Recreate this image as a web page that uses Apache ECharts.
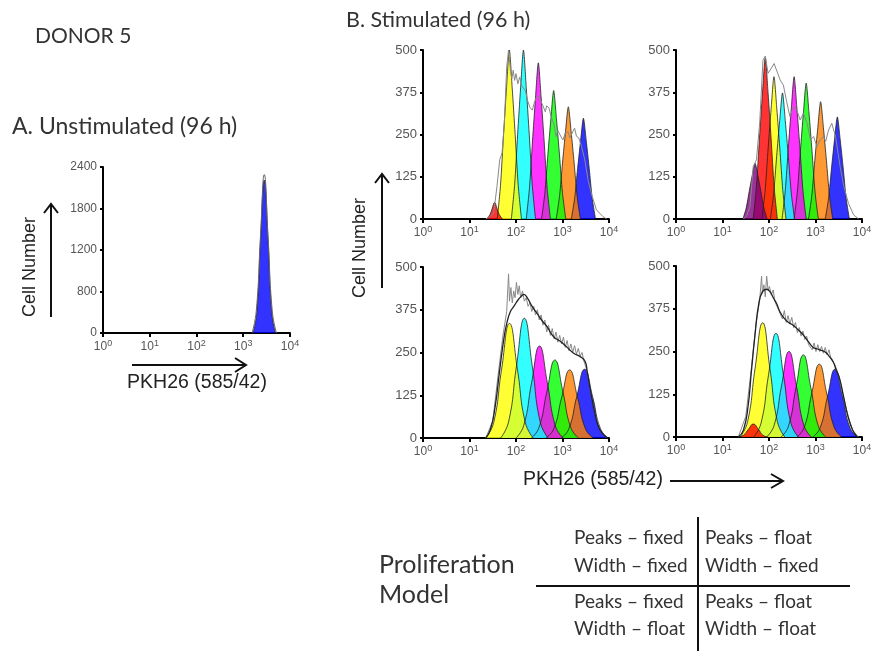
<!DOCTYPE html>
<html><head><meta charset="utf-8">
<script src="https://cdn.jsdelivr.net/npm/echarts@6/dist/echarts.min.js"></script>
<style>html,body{margin:0;padding:0;background:#fff}#c{width:881px;height:651px}</style>
</head><body><div id="c"></div><script>
// x of every point = log10(PKH26 intensity), read in decades off the picture; y = cell number
const xTickExps = [0, 1, 2, 3, 4];
const yTicksA = ['0', '800', '1200', '1800', '2400'];
const yTicksB = ['0', '125', '250', '375', '500'];

// A. Unstimulated
const aBlue = [[3.21,0],[3.29,300],[3.37,1350],[3.45,2210],[3.53,1350],[3.61,300],[3.69,0]];
const aData = [[3.19,0],[3.28,330],[3.37,1420],[3.45,2290],[3.53,1400],[3.62,320],[3.71,0]];

// B top-left: peaks fixed / width fixed
const tlRed     = [[1.37,0],[1.44,13],[1.49,32],[1.54,49],[1.59,32],[1.64,13],[1.71,0]];
const tlYellow  = [[1.597,0],[1.667,100],[1.732,250],[1.797,390],[1.857,500],[1.917,390],[1.982,250],[2.047,100],[2.117,0]];
const tlCyan    = [[1.90,0],[1.97,100],[2.035,250],[2.10,390],[2.16,500],[2.22,390],[2.285,250],[2.35,100],[2.42,0]];
const tlMagenta = [[2.22,0],[2.29,92],[2.355,231],[2.42,360],[2.48,462],[2.54,360],[2.605,231],[2.67,92],[2.74,0]];
const tlGreen   = [[2.55,0],[2.62,76],[2.685,190],[2.75,296],[2.81,380],[2.87,296],[2.935,190],[3.00,76],[3.07,0]];
const tlOrange  = [[2.865,0],[2.935,66],[3.00,166],[3.065,259],[3.125,332],[3.185,259],[3.25,166],[3.315,66],[3.385,0]];
const tlBlue    = [[3.19,0],[3.26,60],[3.325,149],[3.39,232],[3.45,298],[3.51,232],[3.575,149],[3.64,60],[3.71,0]];
const tlData = [[1.35,0],[1.45,8],[1.52,18],[1.59,95],[1.65,175],[1.70,195],[1.75,284],[1.80,450],[1.84,500],[1.88,440],[1.91,415],[1.94,440],[1.97,410],[2.00,430],[2.04,400],[2.08,420],[2.12,395],[2.16,390],[2.20,380],[2.25,350],[2.30,330],[2.35,322],[2.40,347],[2.44,360],[2.48,367],[2.53,350],[2.58,335],[2.63,317],[2.66,335],[2.71,328],[2.76,300],[2.81,284],[2.86,244],[2.90,262],[2.94,263],[2.98,240],[3.01,234],[3.06,255],[3.12,258],[3.16,240],[3.20,252],[3.26,269],[3.30,245],[3.35,240],[3.41,214],[3.48,175],[3.55,115],[3.63,71],[3.73,27],[3.87,7],[3.95,0]];

// B top-right: peaks float / width fixed
const trPurple  = [[1.44,0],[1.51,33],[1.575,82],[1.64,129],[1.70,165],[1.76,129],[1.825,82],[1.89,33],[1.96,0]];
const trRed     = [[1.66,0],[1.73,96],[1.795,239],[1.86,373],[1.92,478],[1.98,373],[2.045,239],[2.11,96],[2.18,0]];
const trYellow  = [[1.847,0],[1.917,84],[1.982,210],[2.047,328],[2.107,421],[2.167,328],[2.232,210],[2.297,84],[2.367,0]];
const trCyan    = [[2.03,0],[2.10,75],[2.165,186],[2.23,291],[2.29,373],[2.35,291],[2.415,186],[2.48,75],[2.55,0]];
const trMagenta = [[2.28,0],[2.35,84],[2.415,210],[2.48,328],[2.54,421],[2.60,328],[2.665,210],[2.73,84],[2.80,0]];
const trGreen   = [[2.54,0],[2.61,80],[2.675,201],[2.74,314],[2.80,402],[2.86,314],[2.925,201],[2.99,80],[3.06,0]];
const trOrange  = [[2.85,0],[2.92,69],[2.985,173],[3.05,271],[3.11,347],[3.17,271],[3.235,173],[3.30,69],[3.37,0]];
const trBlue    = [[3.21,0],[3.28,60],[3.345,151],[3.41,236],[3.47,302],[3.53,236],[3.595,151],[3.66,60],[3.73,0]];
const trData = [[1.45,0],[1.52,10],[1.59,36],[1.66,155],[1.73,175],[1.80,284],[1.87,470],[1.92,482],[1.98,431],[2.05,446],[2.11,460],[2.16,441],[2.24,411],[2.31,396],[2.38,347],[2.45,303],[2.53,332],[2.60,322],[2.67,293],[2.74,313],[2.82,283],[2.89,234],[2.96,244],[3.03,214],[3.10,234],[3.17,244],[3.22,230],[3.28,263],[3.35,283],[3.43,244],[3.53,155],[3.61,96],[3.71,46],[3.82,12],[3.93,0]];

// B bottom-left: peaks fixed / width float
const blYellow  = [[1.35,0],[1.52,45],[1.69,201],[1.86,335],[2.03,201],[2.20,45],[2.37,0]];
const blCyan    = [[1.67,0],[1.84,47],[2.01,210],[2.18,350],[2.35,210],[2.52,47],[2.69,0]];
const blMagenta = [[2.00,0],[2.165,36],[2.335,161],[2.505,269],[2.675,161],[2.845,36],[3.015,0]];
const blGreen   = [[2.33,0],[2.496,31],[2.666,137],[2.836,228],[3.006,137],[3.176,31],[3.346,0]];
const blOrange  = [[2.64,0],[2.813,27],[2.983,119],[3.153,199],[3.323,119],[3.493,27],[3.663,0]];
const blBlue    = [[2.97,0],[3.137,27],[3.307,121],[3.477,201],[3.647,121],[3.817,27],[3.987,0]];
const blFit = [[1.35,0],[1.45,25],[1.55,90],[1.65,200],[1.75,300],[1.81,340],[1.88,370],[1.95,384],[2.05,405],[2.12,415],[2.17,420],[2.25,408],[2.35,384],[2.45,365],[2.55,345],[2.67,325],[2.81,296],[2.96,282],[3.10,265],[3.24,248],[3.38,238],[3.49,223],[3.53,195],[3.60,140],[3.70,70],[3.80,25],[3.96,0]];
const blData = [[1.35,0],[1.50,50],[1.62,190],[1.72,300],[1.80,370],[1.84,480],[1.86,400],[1.89,440],[1.92,395],[1.95,430],[1.98,410],[2.01,455],[2.04,420],[2.07,445],[2.10,410],[2.14,430],[2.18,400],[2.22,410],[2.26,385],[2.30,395],[2.34,370],[2.38,385],[2.42,360],[2.46,375],[2.50,345],[2.54,360],[2.58,330],[2.62,345],[2.66,310],[2.70,330],[2.74,300],[2.78,320],[2.82,290],[2.86,310],[2.90,280],[2.94,300],[2.98,275],[3.02,295],[3.06,265],[3.10,285],[3.14,255],[3.18,275],[3.22,250],[3.26,270],[3.30,245],[3.34,262],[3.38,240],[3.42,250],[3.46,225],[3.52,200],[3.60,140],[3.70,70],[3.82,20],[3.95,0]];

// B bottom-right: peaks float / width float
const brRed     = [[1.35,0],[1.45,5],[1.56,23],[1.663,38],[1.77,23],[1.87,5],[1.98,0]];
const brYellow  = [[1.38,0],[1.54,45],[1.70,200],[1.864,334],[2.02,200],[2.18,45],[2.34,0]];
const brCyan    = [[1.67,0],[1.83,41],[1.99,182],[2.15,303],[2.31,182],[2.47,41],[2.63,0]];
const brMagenta = [[1.95,0],[2.11,34],[2.27,150],[2.43,250],[2.59,150],[2.75,34],[2.91,0]];
const brGreen   = [[2.26,0],[2.42,32],[2.58,144],[2.738,240],[2.90,144],[3.06,32],[3.22,0]];
const brOrange  = [[2.60,0],[2.76,29],[2.92,128],[3.082,213],[3.24,128],[3.40,29],[3.56,0]];
const brBlue    = [[2.94,0],[3.10,27],[3.26,119],[3.419,198],[3.58,119],[3.74,27],[3.90,0]];
const brFit = [[1.34,0],[1.45,20],[1.55,90],[1.62,190],[1.70,300],[1.78,390],[1.86,425],[1.95,432],[2.02,425],[2.10,405],[2.16,391],[2.24,365],[2.31,350],[2.42,335],[2.52,327],[2.63,313],[2.74,298],[2.85,278],[2.95,262],[3.03,258],[3.10,254],[3.20,249],[3.30,235],[3.38,220],[3.44,198],[3.52,170],[3.60,120],[3.70,60],[3.80,20],[3.90,0]];
const brData = [[1.34,0],[1.50,60],[1.62,200],[1.72,330],[1.80,400],[1.84,470],[1.86,420],[1.89,445],[1.92,410],[1.95,470],[1.98,430],[2.01,440],[2.05,415],[2.09,430],[2.13,395],[2.17,400],[2.21,370],[2.25,375],[2.29,345],[2.33,370],[2.37,335],[2.41,355],[2.45,330],[2.49,350],[2.53,320],[2.57,335],[2.61,305],[2.65,320],[2.69,295],[2.73,310],[2.77,285],[2.81,295],[2.85,270],[2.89,275],[2.93,255],[2.97,275],[3.01,250],[3.05,270],[3.09,250],[3.13,265],[3.17,245],[3.21,262],[3.25,240],[3.29,255],[3.33,230],[3.37,230],[3.42,210],[3.50,180],[3.60,120],[3.70,60],[3.80,20],[3.92,0]];

const C = {red:'#ff0000', yellow:'#ffff00', cyan:'#00ffff', magenta:'#ff00ff', green:'#00ff00', orange:'#ff8000', blue:'#0000ff', purple:'#800080'};
const toLin = d => d.map(p => [Math.pow(10, p[0]), p[1]]);

const grids = [
  {left:103, top:167, width:187, height:166},
  {left:423, top:50, width:186, height:169},
  {left:676, top:50, width:186, height:169},
  {left:423, top:267, width:186, height:171},
  {left:676, top:266, width:186, height:171}
];
const labelFont = 'Liberation Sans, Arial, sans-serif';
function xAxis(gi){
  return {type:'log', logBase:10, min:1, max:10000, gridIndex:gi,
    axisLine:{lineStyle:{color:'#000', width:2}},
    axisTick:{length:4, lineStyle:{color:'#000', width:2}},
    splitLine:{show:false}, minorTick:{show:false},
    axisLabel:{margin:6, color:'#555', formatter:(v,i)=>'{b|10}{s|'+xTickExps[i]+'}',
      rich:{b:{fontSize:12, color:'#555', fontFamily:labelFont, lineHeight:15},
            s:{fontSize:9, color:'#555', fontFamily:labelFont, lineHeight:9, verticalAlign:'top'}}}};
}
function yAxis(gi, max, labels, fs){
  return {type:'value', gridIndex:gi, min:0, max:max, interval:max/4,
    axisLine:{show:true, lineStyle:{color:'#000', width:2}},
    axisTick:{show:true, length:3, lineStyle:{color:'#000', width:2}},
    splitLine:{show:false},
    axisLabel:{margin:6, color:'#555', fontSize:fs, fontFamily:labelFont, formatter:(v,i)=>labels[i]}};
}
function peak(d, color, gi, sm){
  return {type:'line', xAxisIndex:gi, yAxisIndex:gi, data:toLin(d), smooth:sm, symbol:'none', silent:true,
    lineStyle:{color:'#222', width:0.8}, areaStyle:{color:color, opacity:0.8}};
}
function curve(d, color, w, gi, sm){
  return {type:'line', xAxisIndex:gi, yAxisIndex:gi, data:toLin(d), smooth:sm, symbol:'none', silent:true,
    lineStyle:{color:color, width:w}};
}
const series = [
  peak(aBlue, C.blue, 0, 0.5), curve(aData, '#666', 1, 0, 0.5),
  // drawn right to left so each left peak lies over its right neighbour
  peak(tlBlue, C.blue, 1, 0.25), peak(tlOrange, C.orange, 1, 0.25), peak(tlGreen, C.green, 1, 0.25),
  peak(tlMagenta, C.magenta, 1, 0.25), peak(tlCyan, C.cyan, 1, 0.25), peak(tlYellow, C.yellow, 1, 0.25), peak(tlRed, C.red, 1, 0.4),
  curve(tlData, '#888', 1, 1, 0),
  peak(trBlue, C.blue, 2, 0.25), peak(trOrange, C.orange, 2, 0.25), peak(trGreen, C.green, 2, 0.25), peak(trMagenta, C.magenta, 2, 0.25),
  peak(trCyan, C.cyan, 2, 0.25), peak(trYellow, C.yellow, 2, 0.25), peak(trRed, C.red, 2, 0.25), peak(trPurple, C.purple, 2, 0.25),
  curve(trData, '#888', 1, 2, 0),
  peak(blBlue, C.blue, 3, 0.5), peak(blOrange, C.orange, 3, 0.5), peak(blGreen, C.green, 3, 0.5),
  peak(blMagenta, C.magenta, 3, 0.5), peak(blCyan, C.cyan, 3, 0.5), peak(blYellow, C.yellow, 3, 0.5),
  curve(blData, '#888', 1, 3, 0), curve(blFit, '#222', 1.3, 3, 0.5),
  peak(brBlue, C.blue, 4, 0.5), peak(brOrange, C.orange, 4, 0.5), peak(brGreen, C.green, 4, 0.5),
  peak(brMagenta, C.magenta, 4, 0.5), peak(brCyan, C.cyan, 4, 0.5), peak(brYellow, C.yellow, 4, 0.5), peak(brRed, C.red, 4, 0.5),
  curve(brData, '#888', 1, 4, 0), curve(brFit, '#222', 1.3, 4, 0.5)
];

const ink = '#111';
const titleFont = 'Lato, "Open Sans", sans-serif';
function txt(x, y, text, size, family, color, align, rot){
  return {type:'text', x:x, y:y, rotation:rot||0, silent:true,
    style:{text:text, x:0, y:0, fontSize:size, fontFamily:family, fill:color, align:align||'left', verticalAlign:'middle'}};
}
function seg(x1, y1, x2, y2, w){
  return {type:'line', silent:true, shape:{x1:x1, y1:y1, x2:x2, y2:y2}, style:{stroke:ink, lineWidth:w||2}};
}
function head(points){
  return {type:'polyline', silent:true, shape:{points:points}, style:{stroke:ink, lineWidth:2, fill:null}};
}
const graphics = [
  txt(35, 36, 'DONOR 5', 21, titleFont, '#333'),
  txt(346, 20, 'B. Stimulated (96 h)', 21.5, titleFont, '#333'),
  txt(12, 127, 'A. Unstimulated (96 h)', 23, titleFont, '#333'),
  txt(30, 267, 'Cell Number', 18, labelFont, '#222', 'center', Math.PI/2),
  seg(51, 317, 51, 204), head([[44,213],[51,204],[58,213]]),
  txt(197, 383, 'PKH26 (585/42)', 19.5, labelFont, '#222', 'center'),
  seg(132, 365, 246, 365), head([[235,358],[246,365],[235,372]]),
  txt(360, 248, 'Cell Number', 18, labelFont, '#222', 'center', Math.PI/2),
  seg(382, 288, 382, 174), head([[375,183],[382,174],[389,183]]),
  txt(593, 480, 'PKH26 (585/42)', 19.5, labelFont, '#222', 'center'),
  seg(670, 481, 783, 481), head([[771,474],[783,481],[771,488]]),
  txt(379, 565, 'Proliferation', 25, titleFont, '#333'),
  txt(379, 595, 'Model', 25, titleFont, '#333'),
  txt(574, 538, 'Peaks – fixed', 19, titleFont, '#333'),
  txt(574, 566, 'Width – fixed', 19, titleFont, '#333'),
  txt(705, 538, 'Peaks – float', 19, titleFont, '#333'),
  txt(705, 566, 'Width – fixed', 19, titleFont, '#333'),
  txt(574, 602, 'Peaks – fixed', 19, titleFont, '#333'),
  txt(574, 629, 'Width – float', 19, titleFont, '#333'),
  txt(705, 602, 'Peaks – float', 19, titleFont, '#333'),
  txt(705, 629, 'Width – float', 19, titleFont, '#333'),
  seg(536, 586, 850, 586, 2), seg(698, 517, 698, 651, 2)
];

const chart = echarts.init(document.getElementById('c'), null, {renderer:'canvas'});
chart.setOption({
  animation:false, backgroundColor:'#fff',
  grid:grids,
  xAxis:[0,1,2,3,4].map(xAxis),
  yAxis:[yAxis(0, 2400, yTicksA, 12), yAxis(1, 500, yTicksB, 13), yAxis(2, 500, yTicksB, 13), yAxis(3, 500, yTicksB, 13), yAxis(4, 500, yTicksB, 13)],
  series:series,
  graphic:graphics
});
</script></body></html>
